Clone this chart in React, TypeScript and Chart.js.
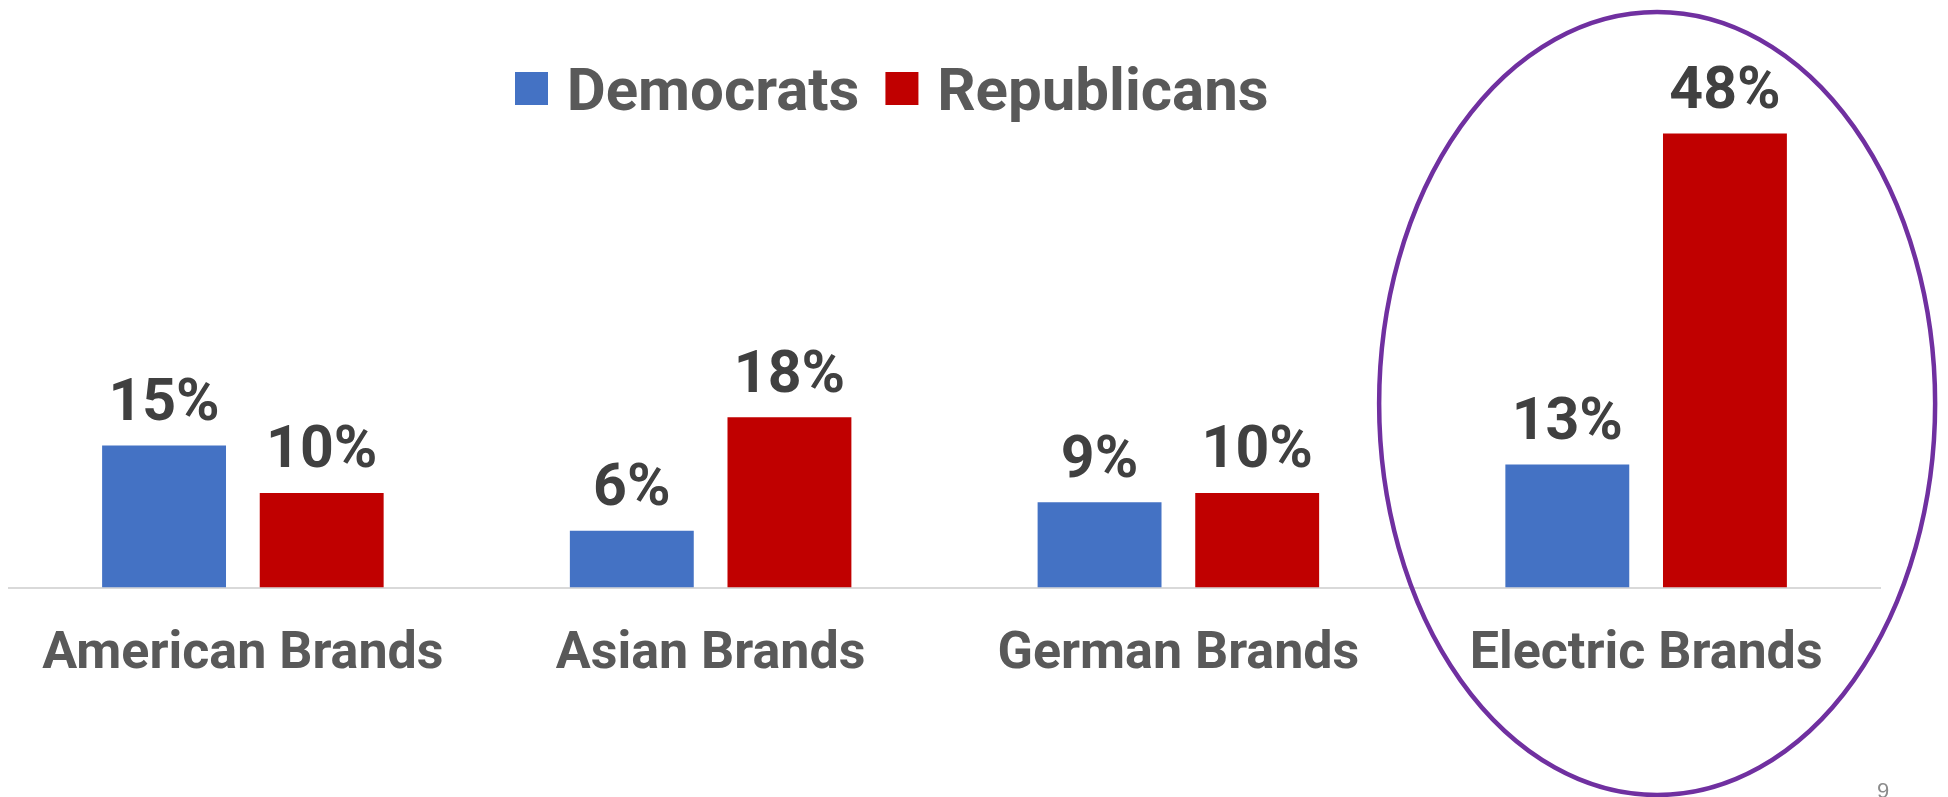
import React, { useEffect, useRef } from "react";
import { Chart, registerables } from "chart.js";

Chart.register(...registerables);

const categories = ["American Brands", "Asian Brands", "German Brands", "Electric Brands"];
const democrats = [15, 6, 9, 13];
const republicans = [10, 18, 10, 48];
const seriesNames = ["Democrats", "Republicans"];
const seriesColors = ["#4472C4", "#C00000"];
const pageNumber = "9";

const FONT = "Roboto, 'Noto Sans', sans-serif";

const overlayPlugin = {
  id: "overlay",
  afterDatasetsDraw(chart: any) {
    const ctx = chart.ctx;
    ctx.save();
    // data labels
    ctx.font = `bold 59px ${FONT}`;
    ctx.fillStyle = "#404040";
    ctx.textAlign = "center";
    ctx.textBaseline = "alphabetic";
    chart.data.datasets.forEach((ds: any, di: number) => {
      const meta = chart.getDatasetMeta(di);
      meta.data.forEach((bar: any, i: number) => {
        ctx.fillText(`${ds.data[i]}%`, bar.x, bar.y - 25.5);
      });
    });

    // legend
    ctx.font = `bold 60px ${FONT}`;
    ctx.textAlign = "left";
    let x = 515;
    chart.data.datasets.forEach((ds: any) => {
      ctx.fillStyle = ds.backgroundColor;
      ctx.fillRect(x, 72, 33, 33);
      x += 33 + 18.7;
      ctx.fillStyle = "#595959";
      ctx.fillText(ds.label, x, 110);
      x += ctx.measureText(ds.label).width + 26;
    });

    // highlight ellipse around the last category
    const xs = chart.scales.x;
    const cx = xs.getPixelForValue(categories.length - 1) + 11;
    ctx.beginPath();
    ctx.ellipse(cx, 403.5, 278, 391.5, 0, 0, Math.PI * 2);
    ctx.strokeStyle = "#7030A0";
    ctx.lineWidth = 4.5;
    ctx.stroke();

    // page number
    ctx.font = `22px 'Liberation Sans', sans-serif`;
    ctx.fillStyle = "#8C8C8C";
    ctx.fillText(pageNumber, 1877, 797.5);
    ctx.restore();
  },
};

export default function App() {
  const ref = useRef<HTMLCanvasElement | null>(null);
  useEffect(() => {
    let chart: any = null;
    let cancelled = false;
    const make = () => {
      if (cancelled || !ref.current) return;
      chart = new Chart(ref.current, {
        type: "bar",
        data: {
          labels: categories,
          datasets: [
            { label: seriesNames[0], data: democrats, backgroundColor: seriesColors[0] },
            { label: seriesNames[1], data: republicans, backgroundColor: seriesColors[1] },
          ],
        },
        options: {
          responsive: false,
          animation: false,
          events: [],
          layout: { padding: { left: 9, right: 68, top: 114.5, bottom: 0 } },
          datasets: {
            bar: { categoryPercentage: 0.674, barPercentage: 0.786 },
          },
          plugins: {
            legend: { display: false },
            tooltip: { enabled: false },
            title: { display: false },
          },
          scales: {
            x: {
              grid: { display: false, drawTicks: false },
              border: { display: true, color: "#D9D9D9", width: 2 },
              ticks: {
                color: "#595959",
                font: { family: FONT, size: 52, weight: "bold", lineHeight: 2.61 },
                padding: 0,
                maxRotation: 0,
                minRotation: 0,
                autoSkip: false,
              },
              afterFit: (scale: any) => {
                scale.height = 209.5;
                scale.paddingLeft = 0;
                scale.paddingRight = 0;
              },
            },
            y: {
              display: false,
              min: 0,
              max: 50,
            },
          },
        },
        plugins: [overlayPlugin],
      } as any);
    };
    const fonts: any = (document as any).fonts;
    if (fonts && fonts.load) {
      Promise.all([fonts.load(`bold 60px Roboto`), fonts.load(`22px 'Liberation Sans'`)])
        .catch(() => {})
        .then(make);
    } else {
      make();
    }
    return () => {
      cancelled = true;
      if (chart) chart.destroy();
    };
  }, []);
  return (
    <div style={{ position: "absolute", left: 0, top: 0, width: 1948, height: 797, background: "#fff" }}>
      <canvas ref={ref} width={1948} height={797} style={{ display: "block" }} />
    </div>
  );
}
